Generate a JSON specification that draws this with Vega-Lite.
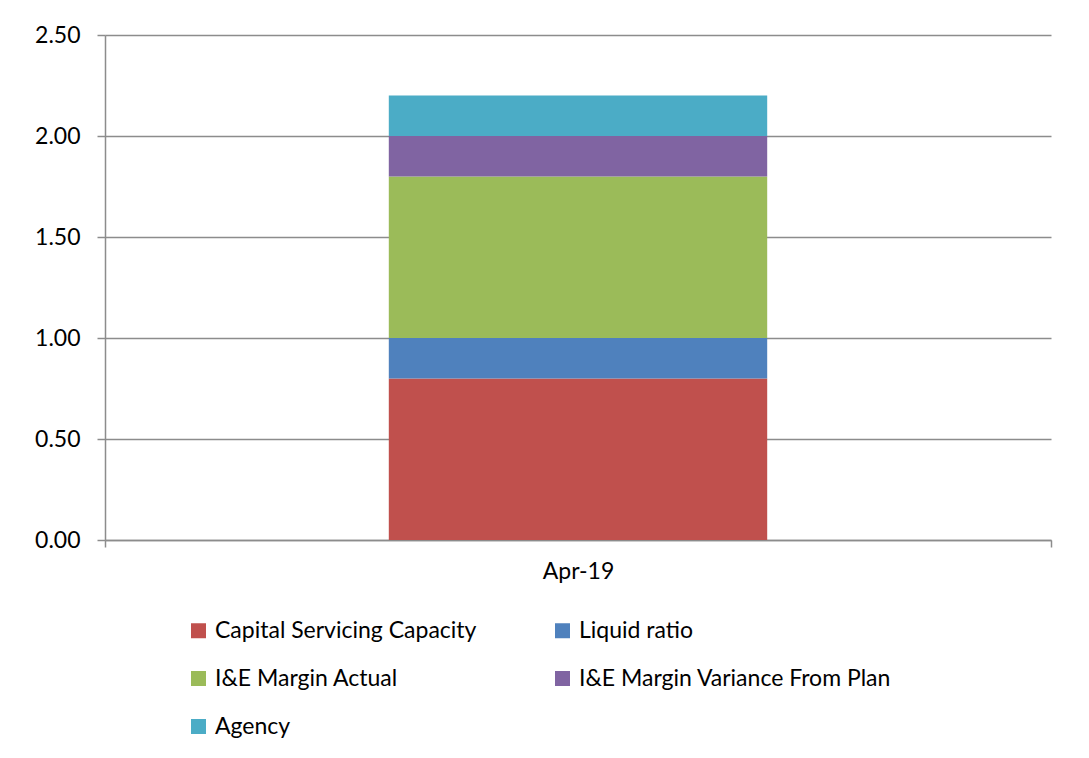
{
  "$schema": "https://vega.github.io/schema/vega-lite/v6.json",
  "autosize": {"type": "none"},
  "padding": {"left": 105, "top": 35, "right": 38, "bottom": 218},
  "width": 946,
  "height": 505,
  "background": "white",
  "data": {"values": [
    {"month": "Apr-19", "series": "Capital Servicing Capacity", "value": 0.8, "idx": 1},
    {"month": "Apr-19", "series": "Liquid ratio", "value": 0.2, "idx": 2},
    {"month": "Apr-19", "series": "I&E Margin Actual", "value": 0.8, "idx": 3},
    {"month": "Apr-19", "series": "I&E Margin Variance From Plan", "value": 0.2, "idx": 4},
    {"month": "Apr-19", "series": "Agency", "value": 0.2, "idx": 5}
  ]},
  "mark": {"type": "bar", "width": {"band": 0.4}},
  "encoding": {
    "x": {
      "field": "month", "type": "nominal",
      "scale": {"paddingInner": 0, "paddingOuter": 0},
      "axis": {"title": null, "labelAngle": 0, "tickBand": "extent", "tickSize": 7, "labelPadding": 13,
               "domainColor": "#8c8c8c", "tickColor": "#8c8c8c", "domainWidth": 1.5, "tickWidth": 1.5, "grid": false}
    },
    "y": {
      "field": "value", "type": "quantitative", "stack": "zero",
      "scale": {"domain": [0, 2.5], "nice": false},
      "axis": {"title": null, "values": [0, 0.5, 1, 1.5, 2, 2.5], "format": ".2f", "tickSize": 8, "labelPadding": 17,
               "domainColor": "#8c8c8c", "tickColor": "#8c8c8c", "gridColor": "#8c8c8c", "domainWidth": 1.5, "tickWidth": 1.5, "gridWidth": 1.5}
    },
    "color": {
      "field": "series", "type": "nominal",
      "scale": {
        "domain": ["Capital Servicing Capacity", "Liquid ratio", "I&E Margin Actual", "I&E Margin Variance From Plan", "Agency"],
        "range": ["#C0504D", "#4F81BD", "#9BBB59", "#8064A2", "#4BACC6"]
      },
      "legend": {
        "title": null, "orient": "none", "direction": "horizontal", "legendX": 82, "legendY": 584, "columns": 2,
        "symbolType": "square", "symbolSize": 225, "symbolStrokeWidth": 0,
        "labelFontSize": 23, "labelOffset": 5, "rowPadding": 24, "columnPadding": 74, "labelLimit": 400
      }
    },
    "order": {"field": "idx", "type": "quantitative"}
  },
  "config": {
    "font": "Lato",
    "view": {"stroke": null},
    "axis": {"labelFont": "Lato", "labelFontSize": 23, "labelColor": "black"},
    "legend": {"labelFont": "Lato", "labelColor": "black"}
  }
}
